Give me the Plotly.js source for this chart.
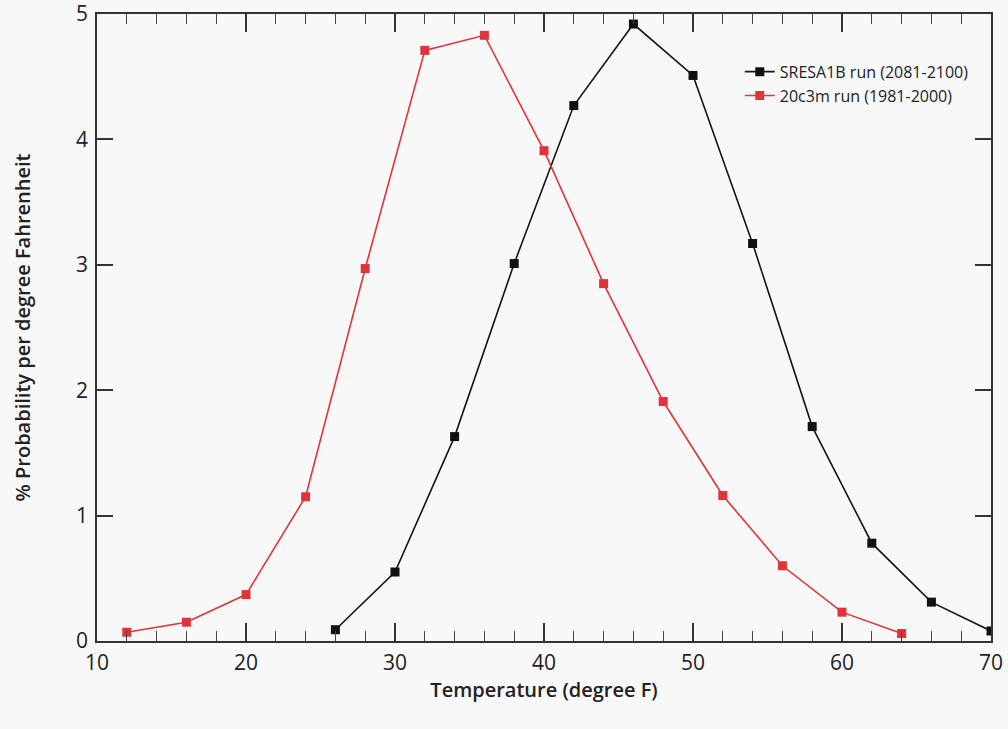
<!DOCTYPE html>
<html>
<head>
<meta charset="utf-8">
<script src="https://cdn.plot.ly/plotly-3.0.1.min.js"></script>
<style>html,body{margin:0;padding:0;background:#f8f8f9;}</style>
</head>
<body>
<div id="chart" style="width:1008px;height:729px;"></div>
<script>
var futureTemps = [26, 30, 34, 38, 42, 46, 50, 54, 58, 62, 66, 70];
var futureProb  = [0.09, 0.55, 1.63, 3.01, 4.27, 4.92, 4.51, 3.17, 1.71, 0.78, 0.31, 0.08];
var pastTemps   = [12, 16, 20, 24, 28, 32, 36, 40, 44, 48, 52, 56, 60, 64];
var pastProb    = [0.07, 0.15, 0.37, 1.15, 2.97, 4.71, 4.83, 3.91, 2.85, 1.91, 1.16, 0.60, 0.23, 0.06];
var futureName = 'SRESA1B run (2081-2100)';
var pastName = '20c3m run (1981-2000)';

var fontFam = '"Open Sans", "Noto Sans", sans-serif';

var traces = [
  {x: futureTemps, y: futureProb, name: futureName, type: 'scatter', mode: 'lines+markers',
   line: {color: '#151515', width: 1.6}, marker: {symbol: 'square', size: 9, color: '#111111'}},
  {x: pastTemps, y: pastProb, name: pastName, type: 'scatter', mode: 'lines+markers',
   line: {color: '#e0343c', width: 1.6}, marker: {symbol: 'square', size: 9, color: '#e0343c'}}
];

var layout = {
  width: 1008, height: 729,
  margin: {l: 97, r: 17, t: 14, b: 88},
  paper_bgcolor: '#f8f8f9', plot_bgcolor: '#f8f8f9',
  font: {family: fontFam, color: '#222'},
  showlegend: true,
  legend: {x: 0.719, y: 0.935, xanchor: 'left', yanchor: 'top', bgcolor: 'rgba(0,0,0,0)',
           font: {size: 16, color: '#222', family: fontFam}, tracegroupgap: 0},
  xaxis: {
    range: [10, 70], dtick: 10, tick0: 10, ticks: 'inside', ticklen: 18, tickwidth: 1.5,
    tickcolor: '#333', showline: true, linecolor: '#333', linewidth: 1.8, mirror: 'ticks',
    showgrid: false, zeroline: false, ticklabelstandoff: 2, ticklabeloverflow: 'allow',
    minor: {dtick: 2, ticks: 'inside', ticklen: 10, tickwidth: 1.2, tickcolor: '#444', showgrid: false},
    tickfont: {size: 21, color: '#222'},
    title: {text: 'Temperature (degree F)', font: {size: 20, weight: 600, color: '#222'}, standoff: 3}
  },
  yaxis: {
    range: [0, 5], dtick: 1, ticks: 'inside', ticklen: 16, tickwidth: 1.5,
    tickcolor: '#333', showline: true, linecolor: '#333', linewidth: 1.8, mirror: 'ticks',
    showgrid: false, zeroline: false, ticklabelstandoff: 3, ticklabeloverflow: 'allow',
    tickfont: {size: 21, color: '#222'},
    title: {text: '% Probability per degree Fahrenheit', font: {size: 20, weight: 600, color: '#222'}, standoff: 40}
  }
};

Plotly.newPlot('chart', traces, layout, {displayModeBar: false});
</script>
</body>
</html>
